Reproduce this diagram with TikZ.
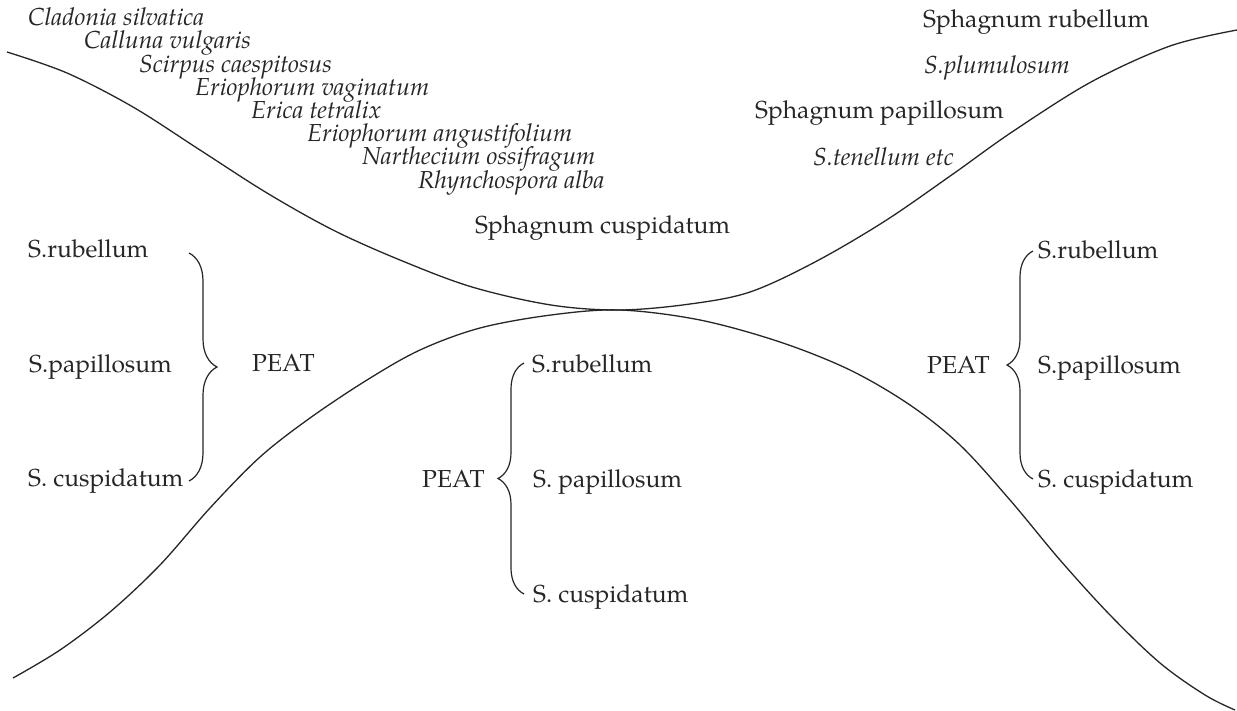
\documentclass[tikz,border=0pt]{standalone}
\usepackage{fontspec}
\setmainfont{TeX Gyre Pagella}
\usetikzlibrary{decorations.pathreplacing}
\definecolor{ink}{RGB}{38,38,38}
\begin{document}
\begin{tikzpicture}[x=1pt,y=-1pt,
  lbl/.style={anchor=base west, inner sep=0pt, text=ink, font=\fontsize{24.6}{29}\selectfont},
  itl/.style={lbl, font=\fontsize{24.6}{29}\selectfont\itshape},
  curve/.style={draw=ink, line width=1.3pt},
  brc/.style={draw=ink, line width=1.2pt, decorate, decoration={brace, amplitude=#1}}]
\fill[white] (0,0) rectangle (1237,710);
\useasboundingbox (0,0) rectangle (1237,710);

% upper-left vegetation list
\node[itl] (cla) at (28,25)  {Cladonia silvatica};
\node[itl] (cal) at (84,48)  {Calluna vulgaris};
\node[itl] (sci) at (139,72) {Scirpus caespitosus};
\node[itl] (erv) at (195,95) {Eriophorum vaginatum};
\node[itl] (eri) at (251,118) {Erica tetralix};
\node[itl] (era) at (307,141) {Eriophorum angustifolium};
\node[itl] (nar) at (362,164) {Narthecium ossifragum};
\node[itl] (rhy) at (418,188) {Rhynchospora alba};
\node[lbl] (scu) at (475,233) {Sphagnum cuspidatum};

% upper-right list
\node[lbl] (sru) at (923,27)  {Sphagnum rubellum};
\node[itl] (spl) at (924,73)  {S.plumulosum};
\node[lbl] (spa) at (755,118) {Sphagnum papillosum};
\node[itl] (ste) at (813,165) {S.tenellum etc};

% left peat
\node[lbl] (lr) at (28,257)  {S.rubellum};
\node[lbl] (lp) at (29,372)  {S.papillosum};
\node[lbl] (lc) at (28,486)  {S. cuspidatum};
\node[lbl] (lpeat) at (252,371) {PEAT};

% middle peat
\node[lbl] (mr) at (532,372) {S.rubellum};
\node[lbl] (mp) at (533,487) {S. papillosum};
\node[lbl] (mc) at (533,602) {S. cuspidatum};
\node[lbl] (mpeat) at (422,487) {PEAT};

% right peat
\node[lbl] (rr) at (1038,258) {S.rubellum};
\node[lbl] (rp) at (1038,373) {S.papillosum};
\node[lbl] (rc) at (1038,487) {S. cuspidatum};
\node[lbl] (rpeat) at (927,373) {PEAT};

% braces
\coordinate (lbt) at (189,253);
\coordinate (lbb) at (189,481);
\coordinate (mbt) at (524,363);
\coordinate (mbb) at (524,594);
\coordinate (rbt) at (1033,251);
\coordinate (rbb) at (1033,479);
\draw[brc=28] (lbt) -- (lbb);
\draw[brc=26] (mbb) -- (mbt);
\draw[brc=26] (rbb) -- (rbt);

% upper curve
\draw[curve] plot[smooth, tension=0.55] coordinates {
  (7,52) (67,73) (133,107) (200,150) (267,193) (333,230) (400,260)
  (472,287) (551,305) (620,310) (690,304) (750,292) (815,262) (885,221)
  (953,174) (1012,132) (1091,82) (1170,46) (1237,30)};

% lower curve
\draw[curve] plot[smooth, tension=0.55] coordinates {
  (13,678) (60,650) (110,612) (160,565) (210,508) (260,457) (310,418)
  (367,380) (420,350) (480,328) (551,315) (620,310) (700,320) (780,342)
  (850,370) (910,405) (960,445) (1010,500) (1060,560) (1110,615)
  (1160,663) (1205,695) (1235,710)};
\end{tikzpicture}
\end{document}
